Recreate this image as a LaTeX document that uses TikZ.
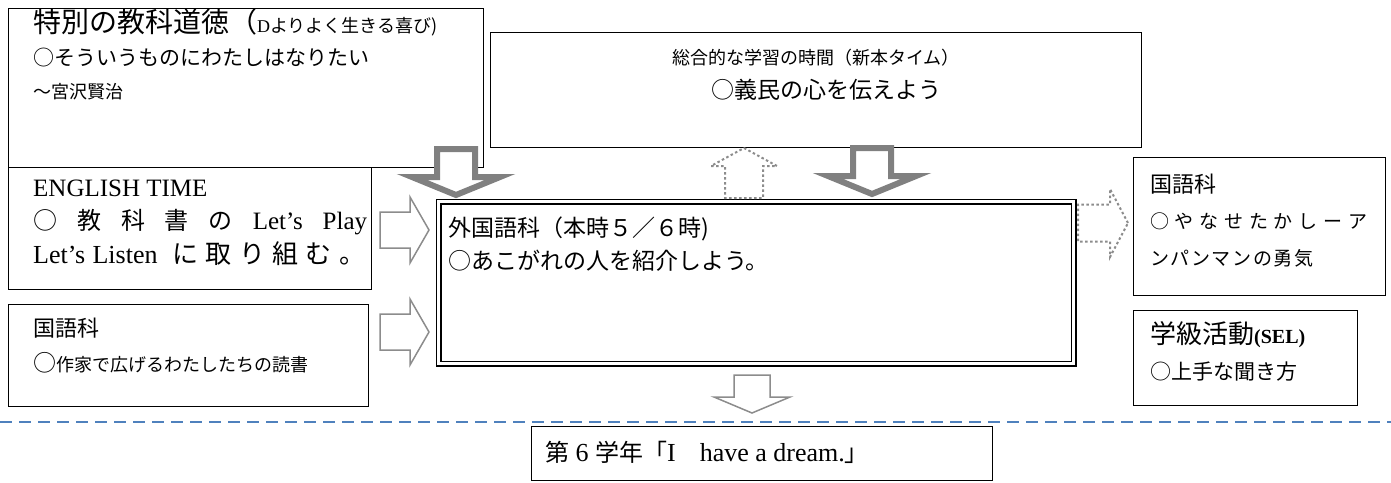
\documentclass[tikz,border=0pt]{standalone}
\usepackage{fontspec}
\setmainfont{Liberation Serif}
\newfontfamily\jp{Noto Sans CJK JP}
\newfontfamily\lat{Liberation Serif}
\usetikzlibrary{positioning}

\newcommand\fsz[1]{\fontsize{#1}{#1}\selectfont}
\definecolor{sepblue}{RGB}{79,129,189}

\tikzset{
  box/.style={draw, line width=1pt, anchor=north west, inner sep=0pt},
  mainbox/.style={draw, line width=1.3pt, double, double distance=3.5pt, anchor=north west, inner sep=0pt},
  txt/.style={anchor=base west, inner sep=0pt, font=\jp\fsz{23}},
  fatarrow/.style={draw=black!50, line width=6pt, fill=white, line join=miter},
  thinarrow/.style={draw=black!45, line width=1.5pt, fill=white},
  dotarrow/.style={draw=black!45, line width=2pt, dash pattern=on 2.5pt off 2.5pt},
  sepline/.style={draw=sepblue, line width=1.8pt, dash pattern=on 12pt off 7pt},
  % block arrows, tip at the origin
  fat down/.pic={\draw[fatarrow] (0,0) -- (-44,-18) -- (-19,-18) -- (-19,-46)
    -- (19,-46) -- (19,-18) -- (44,-18) -- cycle;},
  dot up/.pic={\draw[dotarrow] (0,0) -- (33,18) -- (19,18) -- (19,50)
    -- (-19,50) -- (-19,18) -- (-33,18) -- cycle;},
  dot right/.pic={\draw[dotarrow] (0,0) -- (-18,-34) -- (-18,-18.5) -- (-50,-18.5)
    -- (-50,18.5) -- (-18,18.5) -- (-18,34) -- cycle;},
  thin right/.pic={\draw[thinarrow] (0,0) -- (-19,-33) -- (-19,-18) -- (-49,-18)
    -- (-49,18) -- (-19,18) -- (-19,33) -- cycle;},
  thin down/.pic={\draw[thinarrow] (0,0) -- (-38,-16) -- (-18,-16) -- (-18,-38)
    -- (18,-38) -- (18,-16) -- (38,-16) -- cycle;},
}

\begin{document}
\begin{tikzpicture}[x=1pt, y=-1pt]
  \useasboundingbox (0,0) rectangle (1391,482);

  % boxes
  \node[box, minimum width=475pt, minimum height=159pt] (moral) at (8,8) {};
  \node[box, minimum width=363pt, minimum height=122pt] (english) at (8,167) {};
  \node[box, minimum width=360pt, minimum height=102pt] (kokugoL) at (8,304) {};
  \node[box, minimum width=651pt, minimum height=115pt] (sogo) at (490,32) {};
  \node[mainbox, minimum width=635pt, minimum height=162pt] (gaikoku) at (438,201) {};
  \node[box, minimum width=252pt, minimum height=138pt] (kokugoR) at (1133,157) {};
  \node[box, minimum width=224pt, minimum height=95pt] (gakkyu) at (1133,310) {};
  \node[box, minimum width=461pt, minimum height=54pt] (goal) at (531,426) {};

  % texts
  \node[txt, font=\jp\fsz{28}] (moral1) at ([shift={(25,24)}]moral.north west)
    {特別の教科道徳（{\fsz{18}{\lat D}よりよく生きる喜び)}};
  \node[txt, font=\jp\fsz{21}] (moral2) at ([shift={(25,57)}]moral.north west)
    {○そういうものにわたしはなりたい};
  \node[txt, font=\jp\fsz{18}] (moral3) at ([shift={(25,90)}]moral.north west)
    {～宮沢賢治};

  \node[txt, font=\lat\fsz{25}] (eng1) at ([shift={(25,29)}]english.north west)
    {ENGLISH TIME};
  \node[txt, font=\jp\fsz{24}] (eng2) at ([shift={(25,62)}]english.north west)
    {\makebox[334pt][s]{○\hfill 教\hfill 科\hfill 書\hfill の\hfill
      {\lat\fsz{25}Let’s}\hfill{\lat\fsz{25}Play}}};
  \node[txt, font=\jp\fsz{26}] (eng3) at ([shift={(25,96)}]english.north west)
    {\makebox[332pt][s]{{\lat\fsz{26}Let’s}\hfill{\lat\fsz{26}Listen}\hfill\hfill
      に\hfill 取\hfill り\hfill 組\hfill む\hfill 。}};

  \node[txt, font=\jp\fsz{22}] (kokL1) at ([shift={(25,32)}]kokugoL.north west)
    {国語科};
  \node[txt] (kokL2) at ([shift={(25,67)}]kokugoL.north west)
    {○{\fsz{18}作家で広げるわたしたちの読書}};

  \node[txt, anchor=base, font=\jp\fsz{18}] (sogo1) at ([shift={(0,32)}]sogo.north)
    {総合的な学習の時間（新本タイム）};
  \node[txt, anchor=base, font=\jp\fsz{23}] (sogo2) at ([shift={(10,66)}]sogo.north)
    {○義民の心を伝えよう};

  \node[txt] (gai1) at ([shift={(10,35)}]gaikoku.north west)
    {外国語科（本時５／６時)};
  \node[txt] (gai2) at ([shift={(10,68)}]gaikoku.north west)
    {○あこがれの人を紹介しよう。};

  \node[txt, font=\jp\fsz{22}] (kokR1) at ([shift={(17,35)}]kokugoR.north west)
    {国語科};
  \node[txt, font=\jp\fsz{19}] (kokR2) at ([shift={(17,71)}]kokugoR.north west)
    {\makebox[217pt][s]{○\hfill や\hfill な\hfill せ\hfill た\hfill か\hfill し\hfill ー\hfill ア}};
  \node[txt, font=\jp\fsz{19}] (kokR3) at ([shift={(17,108)}]kokugoR.north west)
    {\makebox[163pt][s]{ン\hfill パ\hfill ン\hfill マ\hfill ン\hfill の\hfill 勇\hfill 気}};

  \node[txt, font=\jp\fsz{26}] (gak1) at ([shift={(17,33)}]gakkyu.north west)
    {学級活動{\lat\bfseries\fsz{20}(SEL)}};
  \node[txt, font=\jp\fsz{21}] (gak2) at ([shift={(17,69)}]gakkyu.north west)
    {○上手な聞き方};

  \node[txt, font=\jp\fsz{24}] (goal1) at ([shift={(14,35)}]goal.north west)
    {第{\lat\fsz{26} 6 }学年「{\lat\fsz{26}I}　{\lat\fsz{26}have a dream.}」};

  % separator
  \coordinate (sepL) at (0,422);
  \coordinate (sepR) at (1391,422);
  \draw[sepline] (sepL) -- (sepR);

  % block arrows
  \pic at (456,195) {fat down};
  \pic at (872,194) {fat down};
  \pic at (744,148) {dot up};
  \pic at (1128,223) {dot right};
  \pic at (429,230) {thin right};
  \pic at (429,332) {thin right};
  \pic at (752,413) {thin down};
\end{tikzpicture}
\end{document}
